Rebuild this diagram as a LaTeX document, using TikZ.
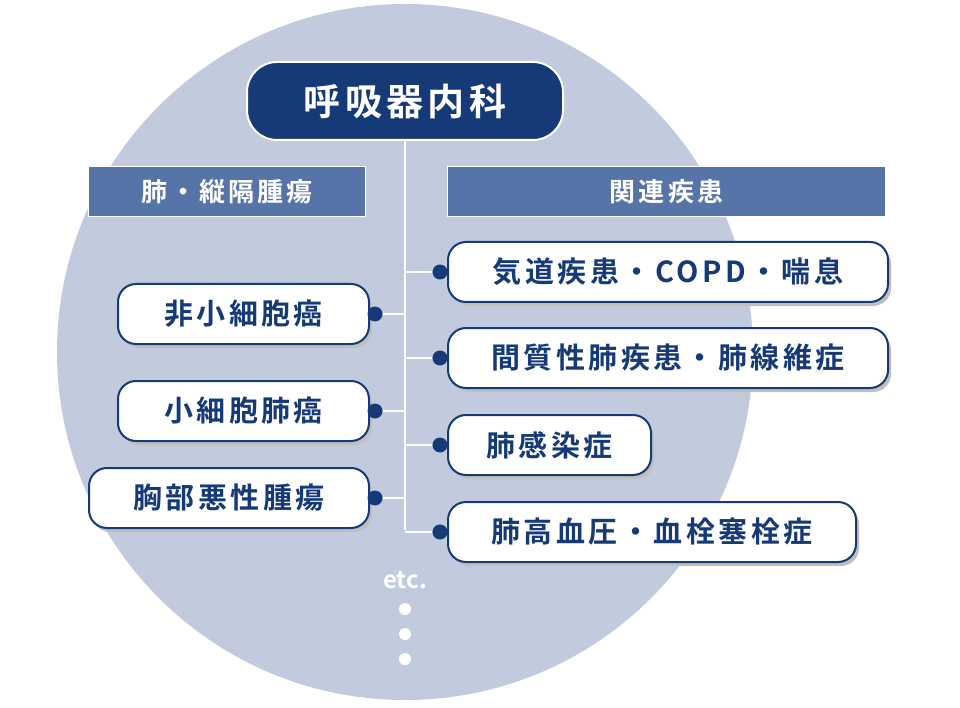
\documentclass[tikz,border=0pt]{standalone}
\usepackage{fontspec}
\setmainfont{Noto Sans CJK JP}[BoldFont={* Bold}]
\newfontfamily\spc{Noto Sans CJK JP}[BoldFont={* Bold},LetterSpace=12]
\definecolor{bgc}{HTML}{C1CBDD}
\definecolor{navy}{HTML}{163A78}
\definecolor{barc}{HTML}{5674A8}
\begin{document}
\begin{tikzpicture}[x=1pt,y=-1pt,
  item/.style={draw=navy,line width=2pt,fill=white,rounded corners=18pt,minimum height=60pt,font=\spc\fontsize{29}{29}\selectfont\bfseries,text=navy,anchor=west,inner xsep=0pt},
  bar/.style={draw=white,line width=1pt,fill=barc,minimum height=50pt,font=\spc\fontsize{26}{26}\selectfont\bfseries,text=white,anchor=west},
  dot/.style={circle,fill=navy,inner sep=0pt,minimum size=15pt},
  wl/.style={white,line width=1.5pt},
  wdot/.style={circle,fill=white,inner sep=0pt,minimum size=12pt}]
\useasboundingbox (0,0) rectangle (960,708);
\fill[bgc] (405,352) circle (348);
\node[draw=white,line width=2pt,fill=navy,rounded corners=30pt,minimum width=316pt,minimum height=78pt,text=white,font=\spc\fontsize{37}{37}\selectfont\bfseries] (title) at (405,101) {呼吸器内科};
\coordinate (vb) at (405,530);
\draw[wl] (title.south) -- (vb);
\node[bar,minimum width=277pt] (hl) at (88,192) {肺・縦隔腫瘍};
\node[bar,minimum width=438pt] (hr) at (447,192) {関連疾患};
\foreach \n/\x/\w/\y/\t in {r1/447/440/272/気道疾患・COPD・喘息, r2/447/440/358/間質性肺疾患・肺線維症, r3/447/203/445/肺感染症, r4/447/408/532/肺高血圧・血栓塞栓症}{
  \node[item,minimum width=\w pt,fill=black!25,draw=none] at (\x+3,\y+4) {};
  \node[item,minimum width=\w pt] (\n) at (\x,\y) {\t};
  \node[dot] (d\n) at (440,\y) {};
  \coordinate (c\n) at (405,\y);
  \draw[wl] (c\n) -- (d\n);
}
\foreach \n/\x/\w/\y/\t in {l1/117/251/314/非小細胞癌, l2/117/251/411/小細胞肺癌, l3/88/280/498/胸部悪性腫瘍}{
  \node[item,minimum width=\w pt,fill=black!25,draw=none] at (\x+3,\y+4) {};
  \node[item,minimum width=\w pt] (\n) at (\x,\y) {\t};
  \node[dot] (d\n) at (375,\y) {};
  \coordinate (c\n) at (405,\y);
  \draw[wl] (c\n) -- (d\n);
}
\node[text=white,font=\fontsize{24}{24}\selectfont\bfseries] (etc) at (405,580) {etc.};
\node[wdot] (e1) at (405,609) {};
\node[wdot] (e2) at (405,634) {};
\node[wdot] (e3) at (405,659) {};
\end{tikzpicture}
\end{document}
